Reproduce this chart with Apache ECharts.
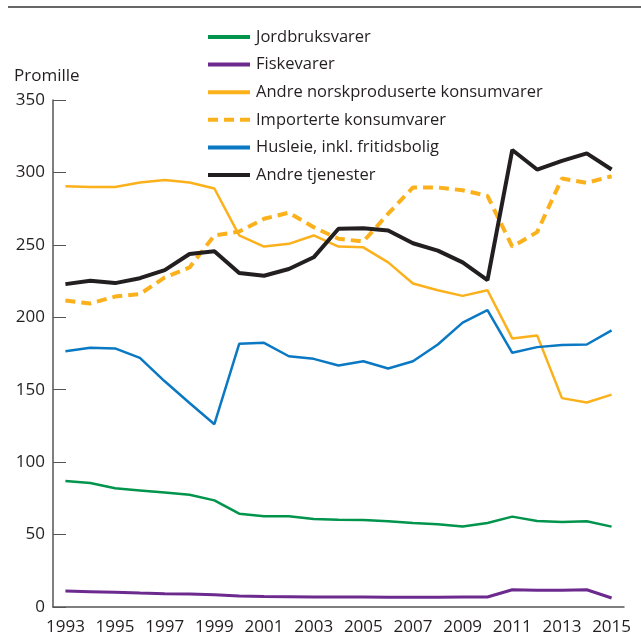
<!DOCTYPE html>
<html>
<head>
<meta charset="utf-8">
<style>
  html, body { margin: 0; padding: 0; background: #fff; }
  #main { width: 641px; height: 643px; }
</style>
<script src="https://cdn.jsdelivr.net/npm/echarts@6/dist/echarts.min.js"></script>
</head>
<body>
<div id="main"></div>
<script>
var years = ['1993', '1994', '1995', '1996', '1997', '1998', '1999', '2000', '2001', '2002', '2003',
    '2004', '2005', '2006', '2007', '2008', '2009', '2010', '2011', '2012', '2013', '2014', '2015'];

var jordbruk = [87, 85.6, 82, 80.5, 79, 77.5, 73.6, 64.4, 62.6, 62.6, 60.8,
    60.3, 60.1, 59.2, 58, 57.1, 55.5, 58, 62.4, 59.4, 58.7, 59.2, 55.5];
var fisk = [11, 10.6, 10.1, 9.6, 9.2, 8.9, 8.5, 7.6, 7.3, 7.1, 6.9,
    6.9, 6.9, 6.8, 6.8, 6.8, 6.9, 6.9, 11.9, 11.5, 11.5, 11.9, 6.2];
var andreNorsk = [290.5, 290, 290, 293, 294.7, 293, 288.9, 256.5, 248.8, 250.7, 256.5,
    248.8, 248.3, 237.9, 223.3, 218.7, 214.8, 218.7, 185.4, 187.5, 144.2, 141.2, 146.6];
var importerte = [211.6, 209.5, 214.3, 216, 227.5, 234.4, 256.5, 259.2, 268, 272.2, 262.2,
    254.2, 252.3, 271.5, 289.6, 289.6, 287.7, 283.8, 248.8, 258.8, 295.8, 292.8, 297.4];
var husleie = [176.5, 178.9, 178.5, 172, 155.8, 140.8, 126.2, 181.7, 182.4, 173.1, 171.3,
    166.7, 169.6, 164.6, 169.6, 181.2, 196.3, 204.9, 175.5, 179.4, 180.8, 181.2, 191];
var tjenester = [222.9, 225.2, 223.6, 227, 232.6, 243.7, 245.6, 230.6, 228.7, 233.3, 241.4,
    261.1, 261.5, 259.9, 251.1, 246, 237.9, 225.7, 315.5, 302, 308, 313.2, 302];

var textColor = '#231f20';
var axisColor = '#555';

var myChart = echarts.init(document.getElementById('main'));

function line(name, data, color, width, type) {
    return {
        name: name,
        type: 'line',
        data: data,
        symbol: 'none',
        lineStyle: { color: color, width: width, type: type || 'solid' },
        itemStyle: { color: color }
    };
}

var option = {
    animation: false,
    backgroundColor: '#fff',
    textStyle: { fontFamily: 'Open Sans' },
    title: {
        text: 'Promille',
        left: 14,
        top: 68,
        padding: 0,
        textStyle: { fontSize: 17, fontWeight: 'normal', color: textColor, fontFamily: 'Open Sans' }
    },
    legend: {
        orient: 'vertical',
        left: 206,
        top: 28.5,
        padding: 0,
        itemWidth: 42,
        itemHeight: 14,
        itemGap: 10.6,
        lineStyle: { width: 4 },
        itemStyle: { opacity: 0 },
        textStyle: { fontSize: 16.5, color: textColor, fontFamily: 'Open Sans', padding: [0, 0, 0, 1] }
    },
    grid: { left: 53, right: 17, top: 100, bottom: 36 },
    xAxis: {
        type: 'category',
        data: years,
        boundaryGap: true,
        axisLine: { lineStyle: { color: axisColor, width: 1.5 } },
        axisTick: { inside: true, length: 13, alignWithLabel: true, interval: 0, lineStyle: { color: axisColor } },
        axisLabel: { interval: 1, fontSize: 17, color: textColor, margin: 12 },
        splitLine: { show: false }
    },
    yAxis: {
        type: 'value',
        min: 0,
        max: 350,
        interval: 50,
        axisLine: { show: true, lineStyle: { color: axisColor, width: 1.5 } },
        axisTick: { show: true, inside: true, length: 13, lineStyle: { color: axisColor } },
        axisLabel: { fontSize: 17, color: textColor, margin: 8 },
        splitLine: { show: false }
    },
    graphic: [{
        type: 'line',
        shape: { x1: 8, y1: 7, x2: 641, y2: 7 },
        style: { stroke: '#333', lineWidth: 1.5 }
    }],
    series: [
        line('Jordbruksvarer', jordbruk, '#00944c', 2.5),
        line('Fiskevarer', fisk, '#6c2a8e', 3),
        line('Andre norskproduserte konsumvarer', andreNorsk, '#fbb11c', 2.5),
        line('Importerte konsumvarer', importerte, '#fbb11c', 4, [10, 6]),
        line('Husleie, inkl. fritidsbolig', husleie, '#0a78c2', 2.5),
        line('Andre tjenester', tjenester, '#231f20', 4)
    ]
};

myChart.setOption(option);
</script>
</body>
</html>
